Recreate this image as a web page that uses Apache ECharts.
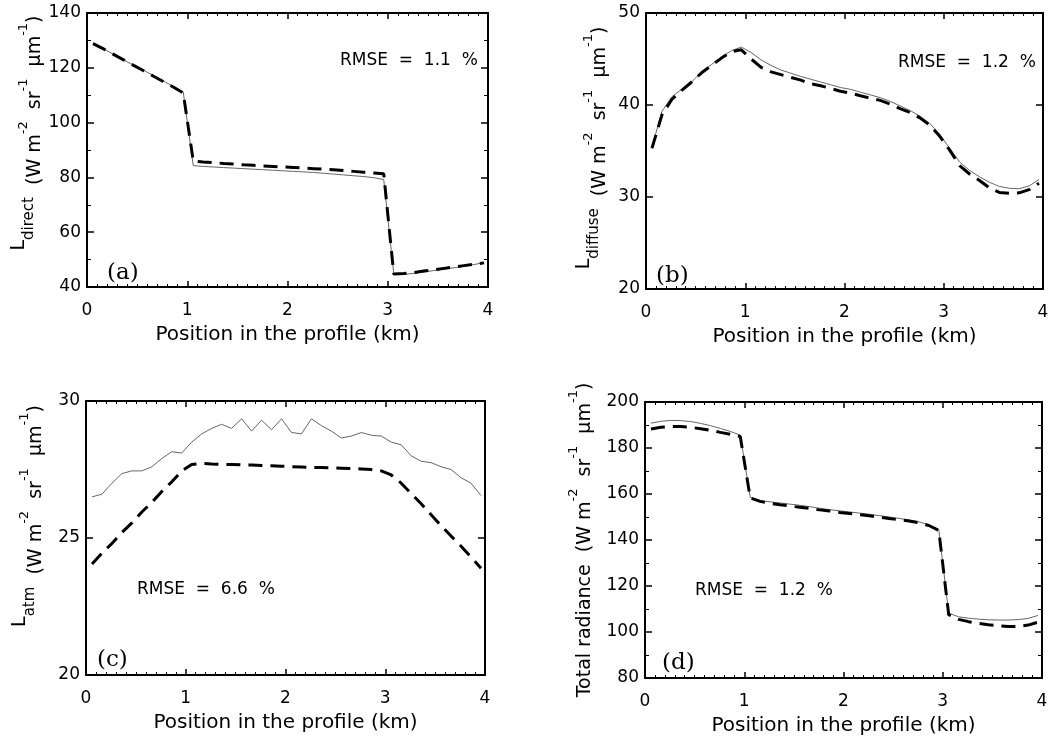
<!DOCTYPE html>
<html>
<head>
<meta charset="utf-8">
<script src="https://cdn.jsdelivr.net/npm/echarts@6/dist/echarts.min.js"></script>
<style>
html,body{margin:0;padding:0;background:#fff;}
#chart{width:1061px;height:737px;}
</style>
</head>
<body>
<div id="chart"></div>
<script>
// Position along the profile (km)
const xs = [0.06,0.16,0.26,0.36,0.46,0.56,0.66,0.76,0.86,0.96,
            1.06,1.16,1.26,1.36,1.46,1.56,1.66,1.76,1.86,1.96,
            2.06,2.16,2.26,2.36,2.46,2.56,2.66,2.76,2.86,2.96,
            3.06,3.16,3.26,3.36,3.46,3.56,3.66,3.76,3.86,3.96];

// (a) L_direct
const directSolid = [129.0,127.0,125.0,123.0,121.0,119.2,117.2,115.2,113.2,111.2,
                     84.3,84.0,83.8,83.6,83.4,83.2,83.0,82.8,82.6,82.4,
                     82.2,82.0,81.8,81.5,81.2,80.9,80.6,80.3,79.9,79.2,
                     44.8,44.6,45.0,45.5,46.0,46.5,47.0,47.6,48.2,48.9];
const directDashed = [128.8,127.0,125.0,123.0,121.0,119.0,117.0,115.0,113.0,110.8,
                      86.0,85.6,85.4,85.1,84.9,84.6,84.4,84.2,84.0,83.8,
                      83.6,83.4,83.2,83.0,82.8,82.5,82.2,81.9,81.6,81.3,
                      44.7,44.9,45.3,45.8,46.3,46.8,47.3,47.8,48.3,48.8];

// (b) L_diffuse
const diffuseSolid = [35.4,39.3,40.9,41.7,42.5,43.6,44.4,45.2,45.9,46.3,
                      45.7,44.9,44.3,43.8,43.45,43.1,42.8,42.5,42.2,41.9,
                      41.7,41.4,41.1,40.8,40.4,39.9,39.4,38.8,38.0,36.8,
                      35.3,33.8,32.9,32.2,31.6,31.15,30.95,30.9,31.2,31.9];
const diffuseDashed = [35.3,38.9,40.6,41.6,42.5,43.5,44.3,45.1,45.8,46.0,
                       45.0,44.1,43.6,43.3,43.0,42.7,42.3,42.1,41.8,41.5,
                       41.3,41.0,40.75,40.5,40.1,39.6,39.2,38.6,37.8,36.6,
                       35.1,33.4,32.5,31.8,31.0,30.5,30.4,30.45,30.8,31.5];

// (c) L_atm
const atmSolid = [26.5,26.6,27.0,27.35,27.45,27.45,27.6,27.9,28.15,28.1,
                  28.5,28.8,29.0,29.15,29.0,29.35,28.9,29.3,28.95,29.35,
                  28.85,28.8,29.35,29.1,28.9,28.65,28.72,28.85,28.75,28.72,
                  28.5,28.4,28.0,27.8,27.75,27.6,27.5,27.2,27.0,26.55];
const atmDashed = [24.05,24.45,24.8,25.2,25.55,25.95,26.3,26.7,27.05,27.45,
                   27.68,27.72,27.7,27.69,27.68,27.67,27.66,27.65,27.64,27.62,
                   27.6,27.59,27.58,27.57,27.56,27.55,27.54,27.52,27.5,27.45,
                   27.3,27.0,26.62,26.25,25.85,25.45,25.07,24.7,24.3,23.9];

// (d) Total radiance
const totalSolid = [190.8,191.6,192.0,191.9,191.5,190.7,189.7,188.5,187.2,185.6,
                    158.6,157.2,156.6,156.1,155.6,155.1,154.5,153.8,153.2,152.7,
                    152.2,151.7,151.2,150.6,150.0,149.4,148.7,147.9,146.6,144.5,
                    108.2,106.6,106.0,105.6,105.3,105.2,105.2,105.4,105.9,107.2];
const totalDashed = [188.3,189.0,189.3,189.3,189.0,188.4,187.7,186.8,186.0,185.0,
                     158.3,156.8,155.9,155.3,154.8,154.2,153.7,153.1,152.6,152.0,
                     151.5,151.0,150.5,149.9,149.3,148.8,148.3,147.5,146.3,144.2,
                     107.5,105.5,104.5,103.8,103.2,102.7,102.4,102.4,103.0,104.3];

const xTicks = [0,1,2,3,4];
const panelLetters = ['(a)','(b)','(c)','(d)'];
const rmseTexts = ['RMSE  =  1.1  %','RMSE  =  1.2  %','RMSE  =  6.6  %','RMSE  =  1.2  %'];
const xTitle = 'Position in the profile (km)';
const yRanges = [[40,140,20],[20,50,10],[20,30,5],[80,200,20]];
const ySubs = ['direct','diffuse','atm',null];

const FONT = 'DejaVu Sans';
const grids = [
  {left:87, top:13, width:401, height:274},
  {left:646, top:13, width:397, height:276},
  {left:86, top:401, width:399, height:274},
  {left:645, top:402, width:397, height:277}
];
const yGaps = [39,43,47,57];
const yShift = [34,6,44,0];
const yMinorSplit = [2,0,0,2];

const unitTail = '{m|  (W m}{sup|-2}{m|  sr}{sup|-1}{m|  \u03bcm}{sup|-1}{m|)}';
function yName(i){
  if (ySubs[i]) return '{L|L}{sub|' + ySubs[i] + '}' + unitTail;
  return '{m|Total radiance}' + unitTail;
}
const rich = {
  L:{fontFamily:FONT,fontSize:19,lineHeight:21,padding:[0,0,16,0],color:'#000'},
  sub:{fontFamily:FONT,fontSize:15,lineHeight:17,padding:[12,0,8,0],color:'#000'},
  m:{fontFamily:FONT,fontSize:19,lineHeight:21,padding:[16,0,0,0],color:'#000'},
  sup:{fontFamily:FONT,fontSize:13,lineHeight:15,padding:[7,0,15,0],color:'#000'}
};

const xAxes = [], yAxes = [], series = [];
const lineStyleAxis = {color:'#000', width:2};
const solids = [directSolid, diffuseSolid, atmSolid, totalSolid];
const dasheds = [directDashed, diffuseDashed, atmDashed, totalDashed];

for (let i=0;i<4;i++){
  const base = {
    type:'value', gridIndex:i, min:xTicks[0], max:xTicks[xTicks.length-1], interval:1,
    axisLine:{show:true, onZero:false, lineStyle:lineStyleAxis},
    axisTick:{show:true, inside:true, length:6, lineStyle:{color:'#000', width:1.5}},
    minorTick:{show:true, splitNumber:10, length:3, lineStyle:{color:'#000', width:1}},
    splitLine:{show:false}
  };
  xAxes.push(Object.assign({}, base, {
    position:'bottom',
    axisLabel:{show:true, fontFamily:FONT, fontSize:17, color:'#000', margin:15},
    name:xTitle, nameLocation:'middle', nameGap:38,
    nameTextStyle:{fontFamily:FONT, fontSize:20, color:'#000'}
  }));
  xAxes.push(Object.assign({}, base, {position:'top', axisLabel:{show:false}}));
  const yr = yRanges[i];
  const ybase = {
    type:'value', gridIndex:i, min:yr[0], max:yr[1], interval:yr[2],
    axisLine:{show:true, onZero:false, lineStyle:lineStyleAxis},
    axisTick:{show:true, inside:true, length:7, lineStyle:{color:'#000', width:1.5}},
    minorTick:{show:yMinorSplit[i]>0, splitNumber:yMinorSplit[i]||2, length:4, lineStyle:{color:'#000', width:1}},
    splitLine:{show:false}
  };
  yAxes.push(Object.assign({}, ybase, {
    position:'left',
    axisLabel:{show:true, fontFamily:FONT, fontSize:17, color:'#000', margin:6},
    name:yName(i), nameLocation:'middle', nameRotate:90, nameGap:yGaps[i],
    nameTextStyle:{rich:rich, padding:[0,0,0,yShift[i]]}
  }));
  yAxes.push(Object.assign({}, ybase, {position:'right', axisLabel:{show:false}}));

  series.push({
    type:'line', xAxisIndex:2*i, yAxisIndex:2*i, showSymbol:false, symbol:'none',
    data: xs.map((x,k)=>[x, solids[i][k]]),
    lineStyle:{color:'#666', width:1}, z:2
  });
  series.push({
    type:'line', xAxisIndex:2*i, yAxisIndex:2*i, showSymbol:false, symbol:'none',
    data: xs.map((x,k)=>[x, dasheds[i][k]]),
    lineStyle:{color:'#000', width:3, type:[14,8]}, z:3
  });
}

const rmsePos = [[340,61],[898,63],[137,590],[695,591]];
const letterPos = [[107,273],[656,276],[97,660],[662,663]];
const graphic = [];
for (let i=0;i<4;i++){
  graphic.push({type:'text', x:rmsePos[i][0], y:rmsePos[i][1],
    style:{text:rmseTexts[i], fontFamily:FONT, fontSize:17, fill:'#000', textAlign:'left', textVerticalAlign:'middle'}});
  graphic.push({type:'text', x:letterPos[i][0], y:letterPos[i][1],
    style:{text:panelLetters[i], fontFamily:'DejaVu Serif', fontSize:23, fill:'#000', textAlign:'left', textVerticalAlign:'middle'}});
}

const chart = echarts.init(document.getElementById('chart'), null, {renderer:'canvas'});
chart.setOption({
  animation:false,
  backgroundColor:'#fff',
  grid:grids,
  xAxis:xAxes,
  yAxis:yAxes,
  series:series,
  graphic:graphic
});
</script>
</body>
</html>
